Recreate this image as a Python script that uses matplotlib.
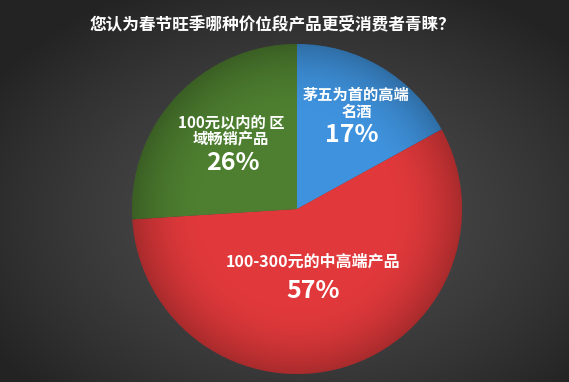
import numpy as np
import matplotlib
matplotlib.use("Agg")
import matplotlib.pyplot as plt
from matplotlib.patches import Circle

plt.rcParams['font.family'] = ['Noto Sans CJK SC', 'DejaVu Sans']

# ---------- data ----------
title = "您认为春节旺季哪种价位段产品更受消费者青睐？"
names = ["茅五为首的高端\n名酒", "100-300元的中高端产品", "100元以内的 区\n域畅销产品"]
shares = [17, 57, 26]
colors = ["#3f93de", "#e1393b", "#4e7f30"]

W, H = 569, 382
fig = plt.figure(figsize=(W / 100, H / 100), dpi=100)

# ---------- background (radial gradient) ----------
bg = fig.add_axes([0, 0, 1, 1], zorder=0)
yy, xx = np.mgrid[0:H, 0:W]
r = np.sqrt(((xx - 300) / 330.0) ** 2 + ((yy - 215) / 230.0) ** 2)
shade = np.clip(0.30 - 0.14 * r ** 1.5, 0.14, 0.31)
bg.imshow(np.dstack([shade, shade, shade * 1.02]).clip(0, 1), aspect='auto',
          extent=[0, 1, 0, 1])
bg.axis('off')

# ---------- pie ----------
cx, cy, rad = 297, 209, 165
ax = fig.add_axes([(cx - rad) / W, (H - cy - rad) / H, 2 * rad / W, 2 * rad / H], zorder=1)
wedges, _ = ax.pie(shares, colors=colors, startangle=90, counterclock=False,
                   radius=1, wedgeprops=dict(linewidth=0))
ax.set_xlim(-1, 1)
ax.set_ylim(-1, 1)
ax.set_aspect('equal')
ax.axis('off')

# soft darkening toward the rim
g = np.linspace(-1, 1, 300)
gx, gy = np.meshgrid(g, g)
gr = np.sqrt(gx ** 2 + gy ** 2)
alpha = np.clip((gr - 0.55) / 0.45, 0, 1) ** 2 * 0.25
overlay = np.zeros((300, 300, 4))
overlay[..., 3] = alpha
im = ax.imshow(overlay, extent=[-1, 1, -1, 1], zorder=3)
im.set_clip_path(Circle((0, 0), 1, transform=ax.transData))

# ---------- labels ----------
def lab(x, y, s, size):
    ax.text(x, y, s, ha='center', va='center', color='white', fontsize=size,
            fontweight='bold', zorder=5, linespacing=1.05)

lab(0.36, 0.64, names[0], 11)
lab(0.33, 0.45, f"{shares[0]}%", 18)
lab(-0.40, 0.475, names[2], 11)
lab(-0.39, 0.28, f"{shares[2]}%", 18)
lab(0.10, -0.32, names[1], 11.5)
lab(0.10, -0.50, f"{shares[1]}%", 18)

fig.text(272 / W, 1 - 24 / H, title, ha='center', va='center', color='white',
         fontsize=12, fontweight='bold')

fig.savefig("out.png", dpi=100)
